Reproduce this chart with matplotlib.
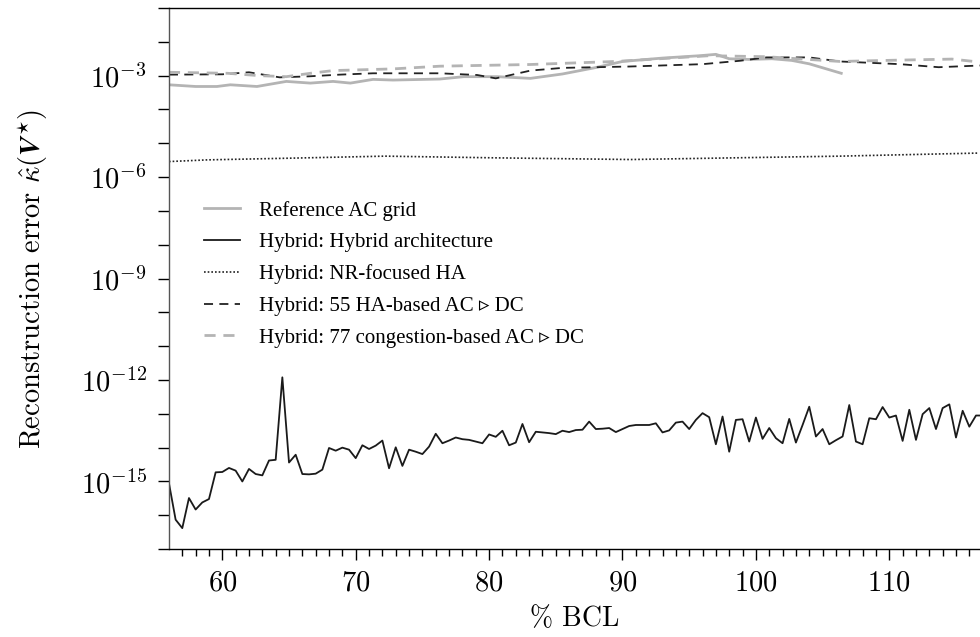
import numpy as np
import matplotlib
matplotlib.use("Agg")
import matplotlib.pyplot as plt
from matplotlib.ticker import FixedLocator, NullFormatter

plt.rcParams["mathtext.fontset"] = "cm"
plt.rcParams["font.family"] = ["cmr10", "DejaVu Serif"]
plt.rcParams["axes.formatter.use_mathtext"] = True

# ---- data (log10 of reconstruction error) ----
bcl_hybrid = np.arange(56.0, 117.01, 0.5)
log_err_hybrid = [
    -15.05, -16.13, -16.38, -15.49, -15.83, -15.62, -15.52, -14.73, -14.72, -14.60,
    -14.68, -15.00, -14.63, -14.78, -14.82, -14.38, -14.36, -11.92, -14.44, -14.21,
    -14.78, -14.79, -14.77, -14.65, -14.01, -14.09, -14.00, -14.06, -14.31, -13.93,
    -14.04, -13.94, -13.79, -14.61, -13.99, -14.54, -14.06, -14.12, -14.19, -13.97,
    -13.59, -13.87, -13.79, -13.70, -13.75, -13.77, -13.82, -13.87, -13.61, -13.68,
    -13.50, -13.93, -13.85, -13.30, -13.84, -13.53, -13.55, -13.57, -13.60, -13.50,
    -13.54, -13.48, -13.47, -13.23, -13.45, -13.44, -13.42, -13.54, -13.45, -13.36,
    -13.33, -13.33, -13.33, -13.28, -13.55, -13.49, -13.26, -13.23, -13.45, -13.18,
    -12.98, -13.10, -13.90, -13.08, -14.12, -13.18, -13.16, -13.82, -13.11, -13.74,
    -13.42, -13.72, -13.87, -13.15, -13.85, -13.33, -12.79, -13.67, -13.45, -13.90,
    -13.78, -13.67, -12.74, -13.82, -13.90, -13.13, -13.16, -12.80, -13.11, -13.05,
    -13.80, -12.88, -13.77, -13.01, -12.83, -13.45, -12.83, -12.72, -13.70, -12.91,
    -13.38, -13.05, -13.05,
]

bcl_ref = [56.0, 58.0, 59.6, 60.6, 62.6, 64.8, 66.6, 68.3, 69.6, 71.3, 72.8, 76.3,
           78.1, 80.6, 83.1, 85.5, 88.0, 90.0, 93.0, 95.8, 97.0, 98.0, 99.5, 101.2,
           102.7, 104.0, 106.4]
log_err_ref = [-3.27, -3.32, -3.32, -3.27, -3.32, -3.17, -3.22, -3.17, -3.22, -3.11,
               -3.13, -3.10, -3.03, -3.03, -3.08, -2.95, -2.76, -2.58, -2.48, -2.41,
               -2.37, -2.50, -2.52, -2.50, -2.55, -2.65, -2.93]

bcl_nr = [56.0, 58.9, 65.1, 72.2, 80.4, 90.6, 98.4, 106.3, 116.6]
log_err_nr = [-5.54, -5.49, -5.44, -5.38, -5.43, -5.48, -5.43, -5.38, -5.29]

bcl_ha55 = [56.0, 60.0, 62.0, 64.3, 66.5, 68.8, 71.3, 76.3, 79.1, 80.5, 83.1, 85.5,
            90.5, 96.0, 98.8, 100.8, 104.0, 106.3, 110.8, 113.7, 116.8]
log_err_ha55 = [-2.97, -2.96, -2.90, -3.05, -3.02, -2.97, -2.93, -2.93, -2.98, -3.08,
                -2.85, -2.77, -2.73, -2.66, -2.56, -2.46, -2.46, -2.58, -2.66, -2.75,
                -2.70]

bcl_cg77 = [56.0, 60.4, 62.8, 64.8, 66.6, 68.3, 72.8, 76.3, 83.1, 89.5, 96.5, 100.8,
            106.3, 110.8, 114.7, 116.8]
log_err_cg77 = [-2.90, -2.93, -3.00, -3.03, -2.93, -2.85, -2.80, -2.72, -2.67, -2.58,
                -2.41, -2.44, -2.58, -2.54, -2.51, -2.60]

labels = [
    "Reference AC grid",
    "Hybrid: Hybrid architecture",
    "Hybrid: NR-focused HA",
    "Hybrid: 55 HA-based AC \u25B9 DC",
    "Hybrid: 77 congestion-based AC \u25B9 DC",
]

# ---- figure ----
fig = plt.figure(figsize=(9.8, 6.37), dpi=100)
ax = fig.add_axes([0.1724, 0.138, 0.8276, 0.8494])

p = lambda v: 10.0 ** np.asarray(v)
ax.plot(bcl_ref, p(log_err_ref), color="#b4b4b4", lw=2.0, label=labels[0])
ax.plot(bcl_hybrid, p(log_err_hybrid), color="#1a1a1a", lw=1.3, label=labels[1])
ax.plot(bcl_nr, p(log_err_nr), color="#222222", lw=1.2, ls=(0, (1, 1.2)), label=labels[2])
ax.plot(bcl_ha55, p(log_err_ha55), color="#222222", lw=1.3, ls=(0, (5, 3.5)), label=labels[3])
ax.plot(bcl_cg77, p(log_err_cg77), color="#b4b4b4", lw=2.0, ls=(0, (4, 2.8)), label=labels[4])

ax.set_yscale("log")
ax.set_ylim(1e-17, 1e-1)
ax.set_xlim(56, 116.8)

major_y = [10.0 ** e for e in (-15, -12, -9, -6, -3)]
minor_y = [10.0 ** e for e in range(-17, 0) if e not in (-15, -12, -9, -6, -3)]
ax.yaxis.set_major_locator(FixedLocator(major_y))
ax.yaxis.set_minor_locator(FixedLocator(minor_y))
ax.yaxis.set_minor_formatter(NullFormatter())

ax.xaxis.set_major_locator(FixedLocator([60, 70, 80, 90, 100, 110]))
ax.xaxis.set_minor_locator(FixedLocator(list(range(57, 117))))

ax.tick_params(axis="y", which="both", direction="out", length=8, width=1,
               labelsize=20.5, pad=8)
ax.tick_params(axis="x", which="major", direction="out", length=8, width=1,
               labelsize=20.5, pad=7)
ax.tick_params(axis="x", which="minor", direction="out", length=5, width=1)

ax.spines["right"].set_visible(False)
ax.spines["left"].set_color("#555555")
for s in ("top", "bottom", "left"):
    ax.spines[s].set_linewidth(1.0)

ax.set_xlabel(r"$\%$ BCL", fontsize=20, labelpad=6)
ax.set_ylabel(r"Reconstruction error $\hat{\kappa}(\boldsymbol{V}^{\star})$",
              fontsize=20.5, labelpad=22)

leg = ax.legend(loc="upper left", bbox_to_anchor=(0.0324, 0.659), frameon=False,
                prop={"family": ["Liberation Serif", "DejaVu Sans"], "size": 15},
                handlelength=1.75, handletextpad=0.9, labelspacing=0.58,
                borderaxespad=0.0)

fig.savefig("out.png", dpi=100)
